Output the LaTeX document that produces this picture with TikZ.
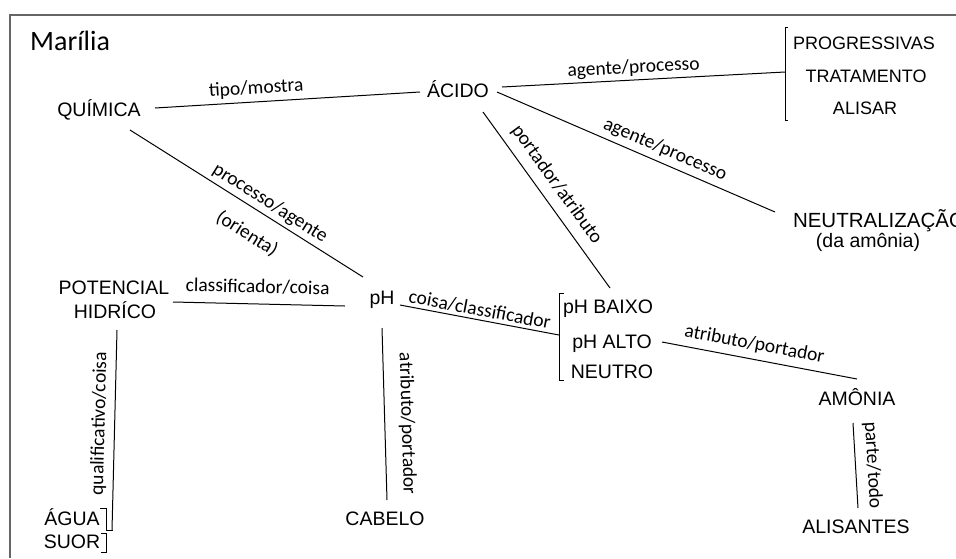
\documentclass[tikz,border=0pt]{standalone}
\usepackage{fontspec}
\setmainfont{Liberation Sans}
\newfontfamily\labfont{Carlito}
\begin{document}
\begin{tikzpicture}[x=1pt,y=-1pt,
  concept/.style={inner sep=0pt, outer sep=0pt, text height=14pt, text depth=0pt, font=\fontsize{19.5}{22}\selectfont},
  smallconcept/.style={concept, text height=13pt, font=\fontsize{18}{20}\selectfont},
  conn/.style={line width=1pt, draw=black},
  lab/.style={sloped, inner xsep=0pt, outer sep=0pt, text height=14pt, text depth=4pt, font=\labfont\fontsize{19.5}{22}\selectfont},
  framel/.style={line width=1.6pt, draw=black!60},
  brk/.style={line width=1pt, draw=black}
]
\useasboundingbox (0,0) rectangle (956,558);
\draw[framel] (10,558) -- (10,15) -- (956,15);

\node[anchor=base west, inner sep=0pt, font=\labfont\fontsize{28}{30}\selectfont] (mar) at (30,50) {Marília};

\node[concept] (qui) at (99,109) {QUÍMICA};
\node[concept] (acido) at (458,90) {ÁCIDO};
\node[smallconcept] (prog) at (864,43) {PROGRESSIVAS};
\node[smallconcept] (trat) at (866,76) {TRATAMENTO};
\node[smallconcept] (alis) at (865,108) {ALISAR};
\node[concept, anchor=west, font=\fontsize{20.5}{22}\selectfont, text height=14.7pt] (neut) at (793,220) {NEUTRALIZAÇÃO};
\node[concept] (neutb) at (868,240) {(da amônia)};
\node[concept] (pot) at (114,287) {POTENCIAL};
\node[concept] (hid) at (115,311) {HIDRÍCO};
\node[concept] (ph) at (382,297) {pH};
\node[concept] (baixo) at (608,306) {pH BAIXO};
\node[concept] (alto) at (612,341) {pH ALTO};
\node[concept] (neutro) at (612,371) {NEUTRO};
\node[concept] (amonia) at (857,398) {AMÔNIA};
\node[concept] (alisantes) at (856,526) {ALISANTES};
\node[concept] (cabelo) at (385,518) {CABELO};
\node[concept] (agua) at (72,518) {ÁGUA};
\node[concept] (suor) at (72,541) {SUOR};

\coordinate (brkA) at (785,72);
\coordinate (brkPH) at (559,335);

% brackets
\draw[brk] (788,27) -- (785,27) -- (785,120) -- (788,120);
\draw[brk] (564,293) -- (559,293) -- (559,380) -- (564,380);
\draw[brk] (100,508) -- (106,508) -- (106,530) -- (113,530);
\draw[brk] (101,533) -- (106,533) -- (106,552) -- (101,552);

% connectors
\draw[conn] ([shift={(56,-1)}]qui.center) -- node[lab, above, inner ysep=4pt, pos=0.385] {tipo/mostra} ([shift={(-38,2)}]acido.center);
\draw[conn] ([shift={(44,-3)}]acido.center) -- node[lab, above, inner ysep=3pt, pos=0.467] {agente/processo} (brkA);
\draw[conn] ([shift={(39,2)}]acido.center) -- node[lab, above, inner ysep=4.5pt, pos=0.585] {agente/processo} ([shift={(-18,-8)}]neut.west);
\draw[conn] ([shift={(25,22)}]acido.center) -- node[lab, above, inner ysep=8pt, pos=0.47] {portador/atributo} ([shift={(2,-18)}]baixo.center);
\draw[conn] ([shift={(31,21)}]qui.center) -- node[lab, above, inner ysep=3.5pt, pos=0.572] {processo/agente}
  node[lab, below, inner ysep=17pt, pos=0.56] {(orienta)} ([shift={(-19,-20)}]ph.center);
\draw[conn] ([shift={(59,15)}]pot.center) -- node[lab, above, inner ysep=7pt, pos=0.49] {classificador/coisa} ([shift={(-37,9)}]ph.center);
\draw[conn] ([shift={(18,8)}]ph.center) -- node[lab, above, inner ysep=0pt, pos=0.49] {coisa/classificador} (brkPH);
\draw[conn] ([shift={(0,31)}]ph.center) -- node[lab, above, inner ysep=13pt, pos=0.56] {atributo/portador} ([shift={(2,-18)}]cabelo.center);
\draw[conn] ([shift={(2,19)}]hid.center) -- node[lab, above, inner ysep=6pt, pos=0.47] {qualificativo/coisa} ([shift={(40,12)}]agua.center);
\draw[conn] ([shift={(50,1)}]alto.center) -- node[lab, above, inner ysep=5.5pt, pos=0.46] {atributo/portador} ([shift={(0,-19)}]amonia.center);
\draw[conn] ([shift={(-4,25)}]amonia.center) -- node[lab, above, inner ysep=8pt, pos=0.51] {parte/todo} ([shift={(2,-18)}]alisantes.center);
\end{tikzpicture}
\end{document}
